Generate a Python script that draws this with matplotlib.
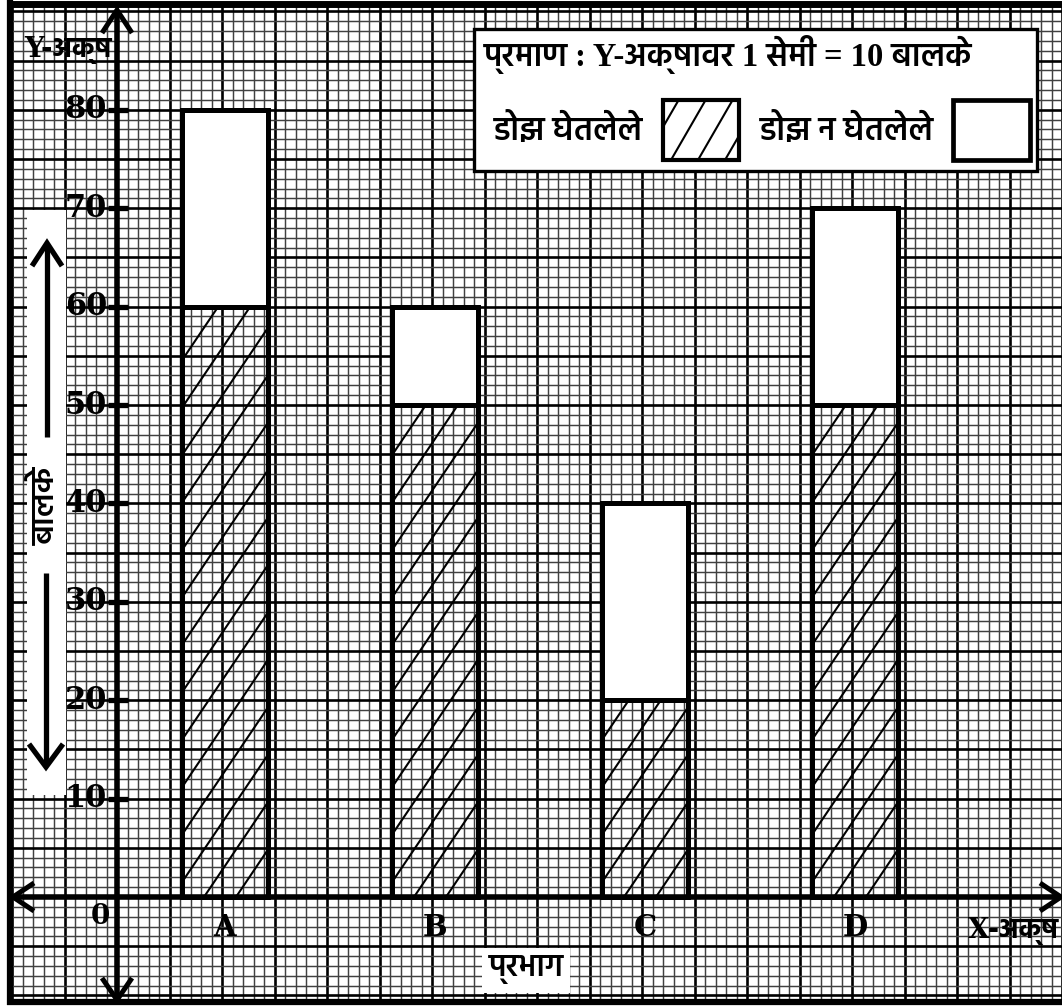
import numpy as np
import matplotlib
matplotlib.use("Agg")
import matplotlib.pyplot as plt
from matplotlib.patches import Rectangle

# ---------------- data ----------------
categories = ["A", "B", "C", "D"]
dose_taken = [60, 50, 20, 50]        # डोझ घेतलेले (hatched)
dose_not_taken = [20, 10, 20, 20]    # डोझ न घेतलेले (white)
y_ticks = [10, 20, 30, 40, 50, 60, 70, 80]
positions = [1, 3, 5, 7]             # category positions on the x axis (cm units)

# ---------------- layout helpers (pixel geometry of the figure) ----------------
W, H = 1062, 1007
OX, OY = 117, 897      # origin in pixels
XU = 105.0             # px per x-unit
YU = 9.84              # px per y-unit
BAR_SHIFT = 3 / XU     # bars sit slightly right of the grid lines
BAR_W = 86 / XU


def px(xp, yp):
    return (xp - OX) / XU, (OY - yp) / YU


fig = plt.figure(figsize=(W / 100, H / 100), dpi=100)
ax = fig.add_axes([0, 0, 1, 1])
ax.set_xlim(px(0, 0)[0], px(W, 0)[0])
ax.set_ylim(px(0, H)[1], px(0, 0)[1])
ax.axis("off")

# ---------------- graph paper ----------------
left_b, top_b, bot_b = 12, 6, 999
gy0 = px(0, bot_b)[1]
gy1 = px(0, top_b)[1]
gx0 = px(left_b, 0)[0]
gx1 = px(W, 0)[0]
for k in range(-12, 100):
    xp = OX + k * XU / 10
    if xp < left_b or xp > W:
        continue
    major = (k % 5 == 0)
    ax.vlines((xp - OX) / XU, gy0, gy1,
              colors="black" if major else "#404040",
              lw=1.9 if major else 1.05, zorder=1)
for k in range(-12, 100):
    yp = OY - k * YU
    if yp < top_b or yp > bot_b:
        continue
    major = (k % 5 == 0)
    ax.hlines(k, gx0, gx1,
              colors="black" if major else "#404040",
              lw=1.9 if major else 1.05, zorder=1)

# outer frame
ax.plot([px(10, 0)[0]] * 2, [px(0, 1005)[1], px(0, 0)[1]], color="black", lw=4.5,
        solid_capstyle="butt", zorder=8)
ax.plot([px(7, 0)[0], gx1], [px(0, 3.5)[1]] * 2, color="black", lw=5,
        solid_capstyle="butt", zorder=8)
ax.plot([px(7, 0)[0], gx1], [px(0, 1002)[1]] * 2, color="black", lw=4.5,
        solid_capstyle="butt", zorder=8)

# ---------------- bars ----------------
xpos = [p + BAR_SHIFT for p in positions]
bars_taken = ax.bar(xpos, dose_taken, width=BAR_W, fill=False,
                    edgecolor="black", lw=3.6, zorder=4)
bars_not = ax.bar(xpos, dose_not_taken, bottom=dose_taken, width=BAR_W,
                  facecolor="white", edgecolor="black", lw=3.6, zorder=4)


def hatch_lines(x0p, x1p, y_top_p, y_bot_p, spacing, angle, phase, lw, clip=None, z=3.5):
    """draw '/' hatch lines inside a pixel rectangle"""
    m = np.tan(np.radians(angle))
    h = y_bot_p - y_top_p
    c = x0p + phase - np.ceil((h / m) / spacing + 1) * spacing
    while c < x1p:
        p1, p2 = px(c, y_bot_p), px(c + h / m, y_top_p)
        ln, = ax.plot([p1[0], p2[0]], [p1[1], p2[1]], color="black", lw=lw,
                      solid_capstyle="butt", zorder=z)
        if clip is not None:
            ln.set_clip_path(clip)
        c += spacing


for rect in bars_taken:
    x0p = OX + rect.get_x() * XU
    x1p = x0p + rect.get_width() * XU
    ytp = OY - (rect.get_y() + rect.get_height()) * YU
    ybp = OY - rect.get_y() * YU
    hatch_lines(x0p, x1p, ytp, ybp, 32, 56, 22, 1.5, clip=rect)

# ---------------- axes with arrows ----------------
ax.plot([0, 0], [px(0, 12)[1], px(0, 998)[1]], color="black", lw=4, zorder=6,
        solid_capstyle="butt")
ax.plot([px(14, 0)[0], px(1060, 0)[0]], [0, 0], color="black", lw=4, zorder=6,
        solid_capstyle="butt")


def chevron(pts, lw=3.6):
    xs, ys = zip(*[px(a, b) for a, b in pts])
    ax.plot(xs, ys, color="black", lw=lw, zorder=7, solid_joinstyle="miter",
            solid_capstyle="butt")


chevron([(102, 33), (117, 10), (132, 33)])
chevron([(102, 978), (117, 1000), (132, 978)])
chevron([(34, 883), (13, 897), (34, 911)])
chevron([(1040, 883), (1061, 897), (1040, 911)])

# y ticks and labels
serif_bold = dict(family="DejaVu Serif", weight="bold")
for t in y_ticks:
    ax.plot([px(108, 0)[0], px(128, 0)[0]], [t, t], color="black", lw=3.8,
            solid_capstyle="butt", zorder=6)
    ax.text(px(107, 0)[0], t, str(t), ha="right", va="center", fontsize=22,
            zorder=7, **serif_bold)

ax.text(*px(100, 916), "0", ha="center", va="center", fontsize=20, zorder=7, **serif_bold)
for p, c in zip(xpos, categories):
    ax.text(p, px(0, 927)[1], c, ha="center", va="center", fontsize=21, zorder=7,
            **serif_bold)

deva = ["DejaVu Serif", "Hind"]
ax.text(*px(24, 50), "Y-अक्ष", ha="left", va="center", fontsize=20, zorder=7,
        family=deva, weight="bold")
ax.text(*px(968, 931), "X-अक्ष", ha="left", va="center", fontsize=20, zorder=7,
        family=deva, weight="bold")

# ---------------- left vertical label strip ----------------
x0, y0 = px(27, 795)
x1, y1 = px(66, 210)
ax.add_patch(Rectangle((x0, y0), x1 - x0, y1 - y0, facecolor="white",
                       edgecolor="none", zorder=3))
ax.plot([px(47, 0)[0]] * 2, [px(0, 245)[1], px(0, 437)[1]], color="black", lw=3.8,
        zorder=5, solid_capstyle="butt")
chevron([(32, 266), (47, 243), (62, 266)], lw=3.8)
ax.plot([px(46, 0)[0]] * 2, [px(0, 573)[1], px(0, 765)[1]], color="black", lw=3.8,
        zorder=5, solid_capstyle="butt")
chevron([(29, 744), (46, 767), (63, 744)], lw=3.8)
ax.text(*px(46, 506), "बालके", rotation=90, ha="center", va="center",
        fontsize=23, family=["Hind"], weight="semibold", zorder=7)

# ---------------- x axis title ----------------
x0, y0 = px(482, 993)
x1, y1 = px(570, 948)
ax.add_patch(Rectangle((x0, y0), x1 - x0, y1 - y0, facecolor="white",
                       edgecolor="none", zorder=3))
ax.text(*px(526, 970), "प्रभाग", ha="center", va="center", fontsize=22.5,
        family=["Hind"], weight="semibold", zorder=7)

# ---------------- legend box ----------------
x0, y0 = px(474, 171)
x1, y1 = px(1037, 29)
ax.add_patch(Rectangle((x0, y0), x1 - x0, y1 - y0, facecolor="white",
                       edgecolor="black", lw=2.4, zorder=9))
ax.text(*px(484, 54), "प्रमाण : Y-अक्षावर 1 सेमी = 10 बालके", ha="left",
        va="center", fontsize=23.5, family=["Liberation Serif", "Hind"],
        weight="semibold", zorder=10)
ax.text(*px(494, 130), "डोझ घेतलेले", ha="left", va="center", fontsize=23.5,
        family=["Hind"], weight="semibold", zorder=10)
ax.text(*px(760, 130), "डोझ न घेतलेले", ha="left", va="center", fontsize=23.5,
        family=["Hind"], weight="semibold", zorder=10)
x0, y0 = px(663, 160)
x1, y1 = px(739, 100)
hbox = Rectangle((x0, y0), x1 - x0, y1 - y0, facecolor="white",
                 edgecolor="black", lw=3.0, zorder=10)
ax.add_patch(hbox)
hatch_lines(663, 739, 100, 160, 27, 60, 8, 1.5, clip=hbox, z=10.5)
x0, y0 = px(953, 160)
x1, y1 = px(1030, 100)
ax.add_patch(Rectangle((x0, y0), x1 - x0, y1 - y0, facecolor="white",
                       edgecolor="black", lw=3.4, zorder=10))

fig.savefig("out.png", dpi=100)
